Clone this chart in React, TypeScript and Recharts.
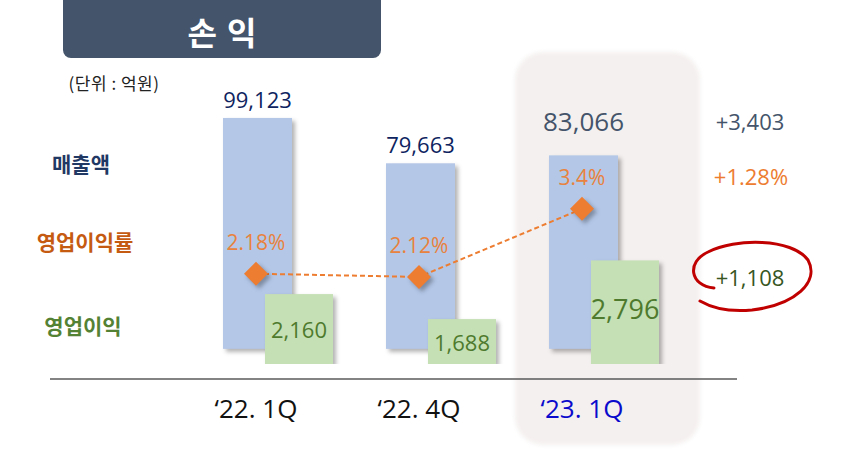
import { ComposedChart, Bar, Line, XAxis, YAxis, LabelList } from "recharts";

const QUARTERS = ["‘22. 1Q", "‘22. 4Q", "‘23. 1Q"];
const SALES = [99123, 79663, 83066];
const OP_PROFIT = [2160, 1688, 2796];
const OP_MARGIN = [2.18, 2.12, 3.4];

const ROW_LABELS = ["매출액", "영업이익률", "영업이익"];
const DELTAS = ["+3,403", "+1.28%", "+1,108"];

const data = QUARTERS.map((q, i) => ({
  quarter: q,
  sales: SALES[i],
  op: OP_PROFIT[i],
  margin: OP_MARGIN[i],
}));

const W = 860;
const H = 451;
const HIGHLIGHT = 2;
const NUM_FONT = "'Open Sans', 'Noto Sans CJK KR', sans-serif";
const KR_FONT = "'Noto Sans CJK KR', 'Noto Sans', sans-serif";
const SHADOW = "drop-shadow(3px 3px 2px rgba(0,0,0,0.3))";

const fmt = (v: number) => v.toLocaleString("en-US");

function ShadowBar(props: any) {
  const { x, y, width, height, fill } = props;
  return <rect x={x} y={y} width={width} height={height} fill={fill} style={{ filter: SHADOW }} />;
}

function SalesLabel(props: any) {
  const { x, y, width, value, index } = props;
  const hi = index === HIGHLIGHT;
  return (
    <text
      x={x + width / 2}
      y={y - (hi ? 24 : 10)}
      textAnchor="middle"
      fontFamily={NUM_FONT}
      fontSize={hi ? 26 : 22}
      fill={hi ? "#44546A" : "#0E2460"}
    >
      {fmt(value)}
    </text>
  );
}

function OpLabel(props: any) {
  const { x, y, width, height, value, index } = props;
  const hi = index === HIGHLIGHT;
  return (
    <text
      x={x + width / 2}
      y={y + height / 2}
      dy={hi ? -4 : 0}
      textAnchor="middle"
      dominantBaseline="central"
      fontFamily={NUM_FONT}
      fontSize={hi ? 27 : 22}
      fill="#4E7A2E"
    >
      {fmt(value)}
    </text>
  );
}

function Diamond(props: any) {
  const { cx, cy, index } = props;
  const r = 12;
  return (
    <polygon
      key={`d-${index}`}
      points={`${cx - r},${cy} ${cx},${cy - r} ${cx + r},${cy} ${cx},${cy + r}`}
      fill="#ED7D31"
      style={{ filter: SHADOW }}
    />
  );
}

function MarginLabel(props: any) {
  const { x, y, value } = props;
  return (
    <text x={x} y={y - 32} textAnchor="middle" dominantBaseline="central" fontFamily={NUM_FONT} fontSize={21} fill="#E8823E">
      {`${value}%`}
    </text>
  );
}

function QuarterTick(props: any) {
  const { x, y, payload, index } = props;
  return (
    <text
      x={x}
      y={y}
      dy={31}
      textAnchor="middle"
      fontFamily={NUM_FONT}
      fontSize={26}
      fill={index === HIGHLIGHT ? "#0A0ACC" : "#111"}
    >
      {payload.value}
    </text>
  );
}

export default function App() {
  return (
    <div style={{ position: "absolute", left: 0, top: 0, width: W, height: H, background: "#fff", overflow: "hidden" }}>
      {/* background: highlight panel and title box */}
      <svg width={W} height={H} style={{ position: "absolute", left: 0, top: 0 }}>
        <defs>
          <filter id="soft" x="-10%" y="-10%" width="120%" height="120%">
            <feGaussianBlur stdDeviation="2" />
          </filter>
        </defs>
        <rect x={515} y={52} width={185} height={393} rx={28} fill="#F4F0EF" filter="url(#soft)" />
        <rect x={63} y={-12} width={318} height={70} rx={8} fill="#44546A" />
        <text x={227} y={31} textAnchor="middle" dominantBaseline="central" fontFamily={KR_FONT} fontWeight={700} fontSize={32} letterSpacing={10} fill="#fff">
          손익
        </text>
        <text x={114} y={82} textAnchor="middle" dominantBaseline="central" fontFamily={KR_FONT} fontSize={17} letterSpacing={0.5} fill="#222">
          (단위 : 억원)
        </text>
      </svg>

      {/* bars */}
      <div style={{ position: "absolute", left: 0, top: 0 }}>
        <ComposedChart width={W} height={H} data={data} margin={{ top: 60, right: 175, bottom: 87, left: 196 }} barGap={-27}>
          <XAxis dataKey="quarter" hide />
          <YAxis yAxisId="sales" hide type="number" domain={[-6500, 124000]} allowDataOverflow />
          <YAxis yAxisId="op" hide type="number" domain={[840, 6580]} allowDataOverflow />
          <Bar yAxisId="sales" dataKey="sales" barSize={69} fill="#B4C7E7" shape={ShadowBar} isAnimationActive={false}>
            <LabelList dataKey="sales" content={SalesLabel} />
          </Bar>
          <Bar yAxisId="op" dataKey="op" barSize={68} fill="#C5E0B4" shape={ShadowBar} isAnimationActive={false}>
            <LabelList dataKey="op" content={OpLabel} />
          </Bar>
        </ComposedChart>
      </div>

      {/* margin line and category axis */}
      <div style={{ position: "absolute", left: 0, top: 0 }}>
        <ComposedChart width={W} height={H} data={data} margin={{ top: 60, right: 123, bottom: 32, left: 50 }}>
          <XAxis
            dataKey="quarter"
            height={40}
            padding={{ left: 206, right: 155 }}
            axisLine={{ stroke: "#5A5A5A", strokeWidth: 1.5 }}
            tickLine={false}
            tick={QuarterTick}
            interval={0}
          />
          <YAxis yAxisId="pct" hide type="number" domain={[0.2, 6.2]} allowDataOverflow />
          <Line
            yAxisId="pct"
            dataKey="margin"
            stroke="#ED7D31"
            strokeWidth={2}
            strokeDasharray="5 3"
            dot={Diamond}
            activeDot={false}
            isAnimationActive={false}
          >
            <LabelList dataKey="margin" content={MarginLabel} />
          </Line>
        </ComposedChart>
      </div>

      {/* row labels, deltas and the hand-drawn circle */}
      <svg width={W} height={H} style={{ position: "absolute", left: 0, top: 0, pointerEvents: "none" }}>
        <text x={81} y={163} textAnchor="middle" dominantBaseline="central" fontFamily={KR_FONT} fontWeight={700} fontSize={21} fill="#1F3864">
          {ROW_LABELS[0]}
        </text>
        <text x={85} y={241} textAnchor="middle" dominantBaseline="central" fontFamily={KR_FONT} fontWeight={700} fontSize={21} fill="#C55A11">
          {ROW_LABELS[1]}
        </text>
        <text x={83} y={325} textAnchor="middle" dominantBaseline="central" fontFamily={KR_FONT} fontWeight={700} fontSize={21} fill="#548235">
          {ROW_LABELS[2]}
        </text>
        <text x={750} y={121} textAnchor="middle" dominantBaseline="central" fontFamily={NUM_FONT} fontSize={22} fill="#44546A">
          {DELTAS[0]}
        </text>
        <text x={751} y={176} textAnchor="middle" dominantBaseline="central" fontFamily={NUM_FONT} fontWeight={500} fontSize={22} fill="#ED7D31">
          {DELTAS[1]}
        </text>
        <text x={750} y={277} textAnchor="middle" dominantBaseline="central" fontFamily={NUM_FONT} fontSize={22} fill="#375623">
          {DELTAS[2]}
        </text>
        <path
          d="M 714 288 C 690 286, 686 262, 708 252 C 735 238, 792 238, 808 260 C 820 282, 795 305, 752 310 C 730 312, 712 308, 700 301"
          fill="none"
          stroke="#C00000"
          strokeWidth={3}
          strokeLinecap="round"
        />
      </svg>
    </div>
  );
}
